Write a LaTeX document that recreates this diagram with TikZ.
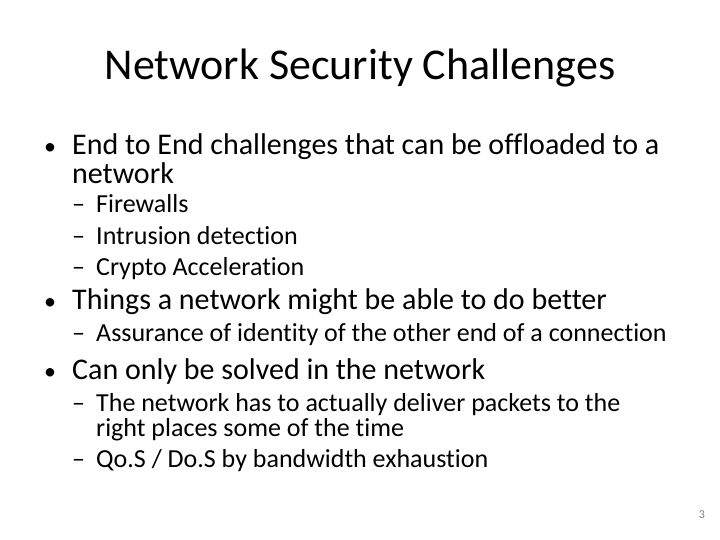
\documentclass[tikz,border=0pt]{standalone}
\usepackage{fontspec}
\setmainfont[Ligatures=NoCommon]{Carlito}
\begin{document}
\begin{tikzpicture}[x=1pt,y=-1pt,
  lone/.style={anchor=base west,inner sep=0pt,font=\fontsize{30}{32}\selectfont},
  ltwo/.style={anchor=base west,inner sep=0pt,font=\fontsize{26}{28}\selectfont},
  mark1/.style={anchor=base west,inner sep=0pt,font=\fontsize{24}{30}\selectfont},
  mark2/.style={anchor=base west,inner sep=0pt,font=\fontsize{26}{28}\selectfont}]
\useasboundingbox (0,0) rectangle (720,540);
\node[inner sep=0pt,font=\fontsize{44}{48}\selectfont] (title) at (360,68) {Network Security Challenges};
\node[mark1] (b1) at (44,155) {•};
\node[lone] (t1) at (72,155) {End to End challenges that can be offloaded to a};
\node[lone] (t1b) at (72,184) {network};
\node[mark2] (d1) at (72,213) {–};
\node[ltwo] (s1) at (96,213) {Firewalls};
\node[mark2] (d2) at (72,244) {–};
\node[ltwo] (s2) at (96,244) {Intrusion detection};
\node[mark2] (d3) at (72,275) {–};
\node[ltwo] (s3) at (96,275) {Crypto Acceleration};
\node[mark1] (b2) at (44,309) {•};
\node[lone] (t2) at (72,309) {Things a network might be able to do better};
\node[mark2] (d4) at (72,341) {–};
\node[ltwo] (s4) at (96,341) {Assurance of identity of the other end of a connection};
\node[mark1] (b3) at (44,379) {•};
\node[lone] (t3) at (72,379) {Can only be solved in the network};
\node[mark2] (d5) at (72,411) {–};
\node[ltwo] (s5) at (96,411) {The network has to actually deliver packets to the};
\node[ltwo] (s5b) at (96,436) {right places some of the time};
\node[mark2] (d6) at (72,467) {–};
\node[ltwo] (s6) at (96,467) {Qo.S / Do.S by bandwidth exhaustion};
\node[inner sep=0pt,font=\fontsize{12}{14}\selectfont,text=gray] (pg) at (702,515) {3};
\end{tikzpicture}
\end{document}
